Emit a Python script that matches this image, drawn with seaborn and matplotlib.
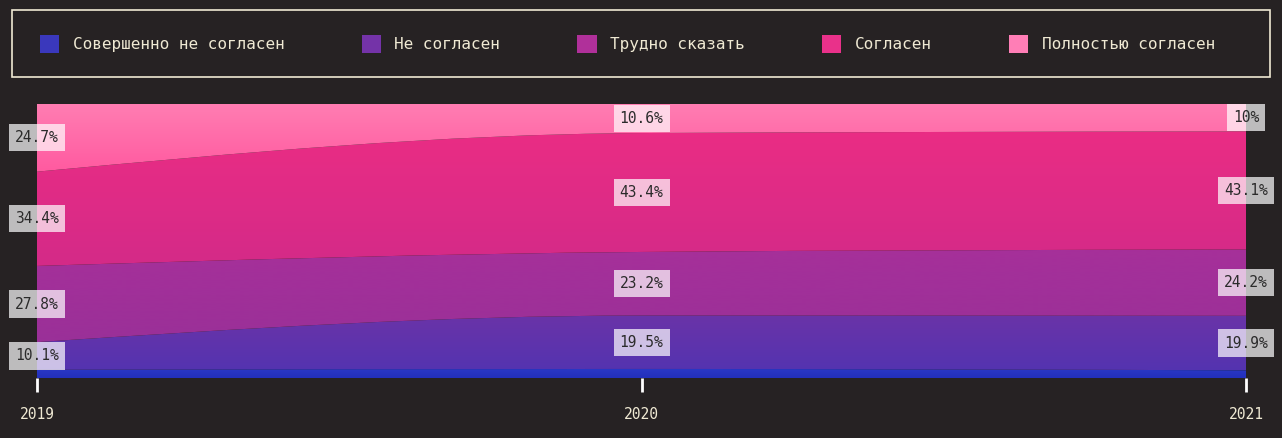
import numpy as np
import matplotlib
matplotlib.use("Agg")
import matplotlib.pyplot as plt
import seaborn as sns
from matplotlib.path import Path
from matplotlib.patches import PathPatch, Patch, Rectangle
from matplotlib.colors import LinearSegmentedColormap

# ---------------- data ----------------
years = [2019, 2020, 2021]
categories = ["Совершенно не согласен", "Не согласен", "Трудно сказать",
              "Согласен", "Полностью согласен"]
strongly_disagree = [3.0, 3.3, 2.8]
disagree = [10.1, 19.5, 19.9]
neutral = [27.8, 23.2, 24.2]
agree = [34.4, 43.4, 43.1]
strongly_agree = [24.7, 10.6, 10.0]
series = [strongly_disagree, disagree, neutral, agree, strongly_agree]
show_labels = [False, True, True, True, True]

# ---------------- style ----------------
BG = "#262223"
CREAM = "#efe9d3"
legend_colors = ["#3a38bc", "#7433a8", "#b0309a", "#e9318a", "#ff7eb6"]
grad_top = ["#2b38c6", "#6a34a8", "#a6309a", "#ea2d84", "#ff7db2"]
grad_bot = ["#2230bb", "#5433b0", "#9a3098", "#d42a88", "#ff5aa0"]

sns.set_theme(style="dark", rc={"figure.facecolor": BG, "axes.facecolor": BG,
                                "savefig.facecolor": BG})
plt.rcParams["font.family"] = ["DejaVu Sans Mono", "DejaVu Sans"]

W, H = 1282, 438
fig = plt.figure(figsize=(W / 100, H / 100), dpi=100)
ax = fig.add_axes([37 / W, (H - 378) / H, (1246 - 37) / W, (378 - 104) / H])
ax.set_facecolor(BG)


def monotone_tangents(x, y):
    x = np.asarray(x, float)
    y = np.asarray(y, float)
    n = len(x)
    h = np.diff(x)
    s = np.diff(y) / h
    t = np.zeros(n)
    for i in range(1, n - 1):
        p = (s[i - 1] * h[i] + s[i] * h[i - 1]) / (h[i - 1] + h[i])
        t[i] = (np.sign(s[i - 1]) + np.sign(s[i])) * min(abs(s[i - 1]), abs(s[i]), 0.5 * abs(p))
    t[0] = (3 * s[0] - t[1]) / 2 if n > 2 else s[0]
    t[-1] = (3 * s[-1] - t[-2]) / 2 if n > 2 else s[-1]
    return t


def curve_segments(x, y, reverse=False):
    t = monotone_tangents(x, y)
    pts = []
    if not reverse:
        for i in range(len(x) - 1):
            h = x[i + 1] - x[i]
            pts.append(((x[i] + h / 3, y[i] + t[i] * h / 3),
                        (x[i + 1] - h / 3, y[i + 1] - t[i + 1] * h / 3),
                        (x[i + 1], y[i + 1])))
    else:
        for i in range(len(x) - 1, 0, -1):
            h = x[i] - x[i - 1]
            pts.append(((x[i] - h / 3, y[i] - t[i] * h / 3),
                        (x[i - 1] + h / 3, y[i - 1] + t[i - 1] * h / 3),
                        (x[i - 1], y[i - 1])))
    return pts


xs = np.array(years, float)
cum = np.zeros(len(years))
for k, vals in enumerate(series):
    lower = cum.copy()
    upper = cum + np.array(vals)
    verts = [(xs[0], upper[0])]
    codes = [Path.MOVETO]
    for c1, c2, p in curve_segments(xs, upper):
        verts += [c1, c2, p]
        codes += [Path.CURVE4] * 3
    verts.append((xs[-1], lower[-1]))
    codes.append(Path.LINETO)
    for c1, c2, p in curve_segments(xs, lower, reverse=True):
        verts += [c1, c2, p]
        codes += [Path.CURVE4] * 3
    verts.append((xs[0], upper[0]))
    codes.append(Path.CLOSEPOLY)
    path = Path(verts, codes)
    patch = PathPatch(path, facecolor="none", edgecolor="none")
    ax.add_patch(patch)
    ymin = float(lower.min())
    ymax = float(upper.max())
    cmap = LinearSegmentedColormap.from_list(f"g{k}", [grad_top[k], grad_bot[k]])
    grad = np.linspace(0, 1, 256).reshape(-1, 1)
    im = ax.imshow(grad, aspect="auto", cmap=cmap, origin="upper",
                   extent=[xs[0], xs[-1], ymin, ymax], interpolation="bilinear")
    im.set_clip_path(patch)

    if show_labels[k]:
        for x, lo, v in zip(xs, lower, vals):
            ax.text(x, lo + v / 2, f"{v:g}%", ha="center", va="center",
                    fontsize=10.5, color="#2b2b2b", clip_on=False, zorder=5,
                    bbox=dict(boxstyle="square,pad=0.42", facecolor="white",
                              edgecolor="none", alpha=0.7))
    cum = upper

ax.set_xlim(years[0], years[-1])
ax.set_ylim(0, 100)
ax.set_yticks([])
ax.set_xticks(years)
ax.set_xticklabels([str(y) for y in years], color=CREAM, fontsize=10.5)
ax.tick_params(axis="x", direction="out", length=10, width=2, color="white",
               pad=11, bottom=True)
ax.grid(False)
for s in ax.spines.values():
    s.set_visible(False)

# legend
handles = [Patch(facecolor=c, edgecolor="none") for c in legend_colors]
leg = fig.legend(handles, categories, loc="center left", ncol=5,
                 bbox_to_anchor=(40 / W, 1 - 44 / H), borderaxespad=0,
                 borderpad=0, frameon=False, fontsize=11.5,
                 handlelength=1.2, handleheight=1.45, handletextpad=0.85,
                 columnspacing=4.83)
for txt in leg.get_texts():
    txt.set_color(CREAM)
fig.patches.append(Rectangle((12 / W, 1 - 77 / H), (1270 - 12) / W, 67 / H,
                             transform=fig.transFigure, facecolor="none",
                             edgecolor=CREAM, linewidth=1.2))

fig.savefig("out.png", dpi=100, facecolor=BG)
